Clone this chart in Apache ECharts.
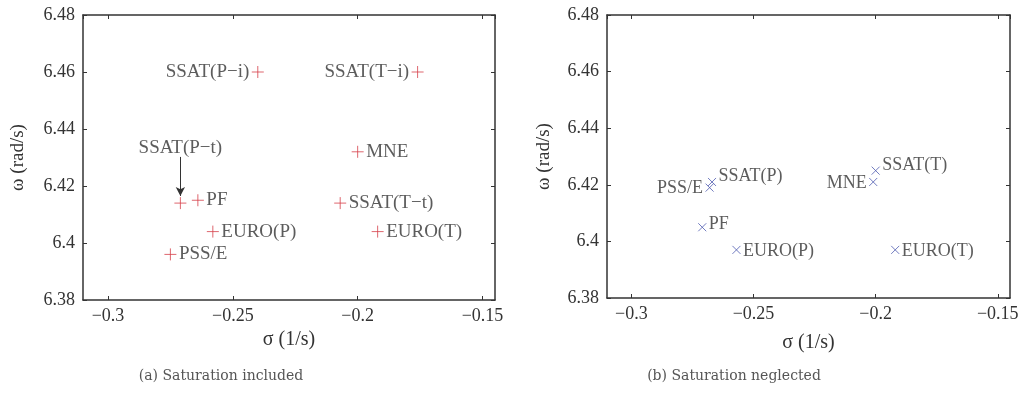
<!DOCTYPE html>
<html>
<head>
<meta charset="utf-8">
<script src="https://cdn.jsdelivr.net/npm/echarts@6/dist/echarts.min.js"></script>
<style>
  html, body { margin: 0; padding: 0; background: #fff; }
  #chart { width: 1033px; height: 404px; }
</style>
</head>
<body>
<div id="chart"></div>
<script>
// (a) saturation included
const namesA = ['SSAT(P−i)', 'SSAT(T−i)', 'MNE', 'SSAT(T−t)', 'SSAT(P−t)', 'PF', 'EURO(P)', 'EURO(T)', 'PSS/E']
const sigmaA = [-0.240, -0.176, -0.200, -0.207, -0.271, -0.264, -0.258, -0.192, -0.275]
const omegaA = [6.460, 6.460, 6.432, 6.414, 6.414, 6.415, 6.404, 6.404, 6.396]

// (b) saturation neglected
const namesB = ['PSS/E', 'SSAT(P)', 'MNE', 'SSAT(T)', 'PF', 'EURO(P)', 'EURO(T)']
const sigmaB = [-0.268, -0.267, -0.201, -0.200, -0.271, -0.257, -0.192]
const omegaB = [6.419, 6.421, 6.421, 6.425, 6.405, 6.397, 6.397]

// arrow annotation in (a)
const noteText = 'SSAT(P−t)'
const noteSigma = -0.271
const noteOmega = [6.4335, 6.4302, 6.4165]

const xMin = -0.31
const xMax = -0.145
const yMin = 6.38
const yMax = 6.48
const yStep = 0.02

const font = 'Liberation Serif, Times New Roman, serif'
const ink = '#333'
const red = '#d6404a'
const blue = '#4f5bb0'
const plusPath = 'path://M0,5L10,5M5,0L5,10'
const crossPath = 'path://M0,0L10,10M10,0L0,10'

const leftLabelled = ['SSAT(P−i)', 'SSAT(T−i)']
const leftLabelledB = ['PSS/E', 'MNE']
const raisedB = { 'SSAT(P)': -6, 'SSAT(T)': -5, PF: -3 }

const fmtMinus = (v) => String(Math.round(v * 1000) / 1000).replace('-', '−')

const chart = echarts.init(document.getElementById('chart'), null, { renderer: 'canvas' })

const grids = [
  { left: 83, top: 15, width: 412, height: 285 },
  { left: 607, top: 15, width: 403, height: 283 }
]

const boxAxis = (gridIndex, extra) => ({
  gridIndex,
  type: 'value',
  axisLine: { show: true, onZero: false, lineStyle: { color: ink, width: 1.5 } },
  axisTick: { show: true, inside: true, length: 4, lineStyle: { color: ink } },
  splitLine: { show: false },
  ...extra
})

const xAxes = []
const yAxes = []
;[0, 1].forEach((g) => {
  xAxes.push(boxAxis(g, {
    position: 'bottom',
    min: xMin,
    max: xMax,
    splitNumber: 3,
    name: 'σ (1/s)',
    nameLocation: 'middle',
    nameGap: g === 0 ? 25 : 35,
    nameTextStyle: { fontFamily: font, fontSize: 20, color: ink },
    axisLabel: {
      showMinLabel: false,
      showMaxLabel: false,
      fontFamily: font,
      fontSize: 18,
      color: ink,
      margin: 7,
      formatter: fmtMinus
    }
  }))
  xAxes.push(boxAxis(g, {
    position: 'top',
    min: xMin,
    max: xMax,
    splitNumber: 3,
    axisLabel: { show: false }
  }))
  yAxes.push(boxAxis(g, {
    position: 'left',
    min: yMin,
    max: yMax,
    interval: yStep,
    name: 'ω (rad/s)',
    nameLocation: 'middle',
    nameRotate: 90,
    nameGap: g === 0 ? 55 : 53,
    nameTextStyle: { fontFamily: font, fontSize: 19, color: ink },
    axisLabel: { fontFamily: font, fontSize: 18, color: ink, margin: 8 }
  }))
  yAxes.push(boxAxis(g, {
    position: 'right',
    min: yMin,
    max: yMax,
    interval: yStep,
    axisLabel: { show: false }
  }))
})

const labelStyle = { fontFamily: font, fontSize: 19, color: ink, distance: 2 }

const seriesA = {
  type: 'scatter',
  xAxisIndex: 0,
  yAxisIndex: 0,
  symbol: plusPath,
  symbolSize: 12,
  itemStyle: { color: 'transparent', borderColor: red, borderWidth: 1 },
  data: namesA.map((name, i) => ({
    name,
    value: [sigmaA[i], omegaA[i]],
    label: {
      show: name !== noteText,
      position: leftLabelled.includes(name) ? 'left' : 'right',
      formatter: '{b}',
      ...labelStyle
    }
  })),
  markLine: {
    silent: true,
    symbol: ['none', 'arrow'],
    symbolSize: [7, 9],
    lineStyle: { color: ink, width: 1, type: 'solid' },
    label: { show: false },
    data: [[
      { coord: [noteSigma, noteOmega[1]] },
      { coord: [noteSigma, noteOmega[2]] }
    ]]
  }
}

const noteSeries = {
  type: 'scatter',
  xAxisIndex: 0,
  yAxisIndex: 0,
  symbolSize: 0,
  silent: true,
  data: [{ name: noteText, value: [noteSigma, noteOmega[0]] }],
  label: { show: true, position: 'inside', formatter: '{b}', ...labelStyle }
}

const seriesB = {
  type: 'scatter',
  xAxisIndex: 2,
  yAxisIndex: 2,
  symbol: crossPath,
  symbolSize: 8,
  itemStyle: { color: 'transparent', borderColor: blue, borderWidth: 1 },
  data: namesB.map((name, i) => ({
    name,
    value: [sigmaB[i], omegaB[i]],
    label: {
      show: true,
      position: leftLabelledB.includes(name) ? 'left' : 'right',
      offset: [0, raisedB[name] ?? 1],
      formatter: '{b}',
      ...labelStyle,
      fontSize: 18
    }
  }))
}

chart.setOption({
  backgroundColor: '#fff',
  animation: false,
  title: [
    {
      text: '(a) Saturation included',
      left: 216,
      top: 364,
      textAlign: 'center',
      textStyle: { fontFamily: 'DejaVu Serif', fontSize: 14, fontWeight: 'normal', color: '#555' }
    },
    {
      text: '(b) Saturation neglected',
      left: 729,
      top: 364,
      textAlign: 'center',
      textStyle: { fontFamily: 'DejaVu Serif', fontSize: 14, fontWeight: 'normal', color: '#555' }
    }
  ],
  grid: grids,
  xAxis: xAxes,
  yAxis: yAxes,
  series: [seriesA, noteSeries, seriesB]
})
</script>
</body>
</html>
